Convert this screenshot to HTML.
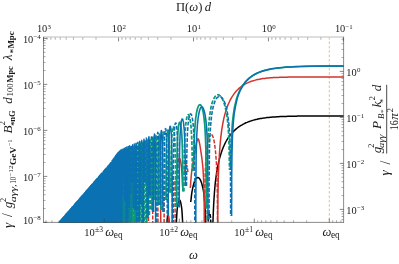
<!DOCTYPE html>
<html><head><meta charset="utf-8"><title>plot</title>
<style>html,body{margin:0;padding:0;background:#fff}svg{display:block;will-change:transform}text{font-family:"Liberation Serif",serif}</style></head>
<body>
<svg width="399" height="264" viewBox="0 0 399 264">
<rect width="399" height="264" fill="#fff"/>
<defs><clipPath id="c"><rect x="43.5" y="37.0" width="300.1" height="185.4"/></clipPath></defs>
<g clip-path="url(#c)">
<line x1="329.3" y1="37.0" x2="329.3" y2="222.4" stroke="#f7b06a" stroke-width="0.9" stroke-dasharray="2.6 1.8"/>
<path d="M212.1 232L212.1 232L212.1 232L212.1 232L212.1 232L212.1 232L212.1 232L212.2 232L212.2 232L212.2 232L212.2 232L212.2 232L212.3 232L212.3 232L212.4 232L212.5 232L212.5 232L212.7 232L212.8 227.2L213 220.1L213.3 213L213.6 205.9L214 198.8L214.5 191.7L215.1 184.7L215.4 181.9L216.5 173.5L217.6 167.1L218.7 161.9L219.8 157.6L220.9 153.9L222 150.6L223.1 147.8L224.2 145.3L225.2 143L226.3 141L227.4 139.1L228.5 137.5L229.6 135.9L230.7 134.5L231.8 133.2L232.9 132L234 130.9L235.1 129.9L236.2 128.9L237.3 128L238.4 127.2L239.5 126.4L240.6 125.7L241.7 125.1L242.8 124.4L243.8 123.9L244.9 123.3L246 122.8L247.1 122.4L248.2 121.9L249.3 121.5L250.4 121.1L251.5 120.8L252.6 120.4L253.7 120.1L254.8 119.8L255.9 119.5L257 119.3L258.1 119L259.2 118.8L260.3 118.6L261.4 118.4L262.4 118.2L263.5 118.1L264.6 117.9L265.7 117.8L266.8 117.6L267.9 117.5L269 117.4L270.1 117.3L271.2 117.2L272.3 117.1L273.4 117L274.5 116.9L275.6 116.9L276.7 116.8L277.8 116.7L278.9 116.7L280 116.6L281 116.6L282.1 116.5L283.2 116.5L284.3 116.4L285.4 116.4L286.5 116.4L287.6 116.3L288.7 116.3L289.8 116.3L290.9 116.2L292 116.2L293.1 116.2L294.2 116.2L295.3 116.2L296.4 116.2L297.5 116.1L298.6 116.1L299.6 116.1L300.7 116.1L301.8 116.1L302.9 116.1L304 116.1L305.1 116.1L306.2 116.1L307.3 116.1L308.4 116.1L309.5 116L310.6 116L311.7 116L312.8 116L313.9 116L315 116L316.1 116L317.2 116L318.2 116L319.3 116L320.4 116L321.5 116L322.6 116L323.7 116L324.8 116L325.9 116L327 116L328.1 116L329.2 116L330.3 116L331.4 116L332.5 116L333.6 116L334.7 116L335.8 116L336.8 116L337.9 116L339 116L340.1 116L341.2 116L342.3 116L343.4 116L344.5 116L345.6 116M190.7 202L191.1 199.1L191.5 195.1L192 191.6L192.6 188.6L193.2 186L193.8 183.7L194.4 181.8L195 180.2L195.7 179L196.3 178.2L197 177.7L197.7 177.5L198.4 177.7L199.1 178.1L199.7 178.9L200.4 180L201 181.4L201.6 183.1L202.2 185.2L202.8 187.7L203.4 190.6L203.9 193.9L204.3 197.7L204.7 202.1L205.1 207.2L205.5 213.2L205.7 220.4L206 229.2L206.2 232L206.3 232L206.4 232L206.4 232L206.4 232M175.5 232L175.5 232L175.5 232L175.5 232L175.6 232L175.7 232L175.8 232L175.9 232L176.1 229.4L176.3 224.4L176.5 220L176.7 216.2L176.9 212.9L177.1 210.1L177.4 207.7L177.7 205.6L178 203.9L178.3 202.5L178.6 201.4L178.9 200.6L179.2 200.2L179.5 200L179.8 200.2L180.1 200.6L180.4 201.4L180.7 202.5L181 203.9L181.3 205.6L181.6 207.7L181.9 210.1L182.1 212.9L182.3 216.2L182.5 220L182.7 224.4L182.9 229.4L183.1 232L183.2 232L183.3 232L183.4 232L183.5 232L183.5 232L183.5 232L183.5 232M166 232L166 232L166 232L166 232L166.1 232L166.1 232L166.2 232L166.2 232L166.3 232L166.4 232L166.5 232L166.6 231.2L166.7 227.9L166.8 225.1L167 222.7L167.1 220.6L167.2 218.9L167.4 217.5L167.5 216.4L167.7 215.6L167.8 215.2L168 215L168.2 215.2L168.3 215.6L168.5 216.4L168.6 217.5L168.8 218.9L168.9 220.6L169 222.7L169.2 225.1L169.3 227.9L169.4 231.2L169.5 232L169.6 232L169.7 232L169.8 232L169.8 232L169.9 232L169.9 232L170 232L170 232L170 232L170 232" fill="none" stroke="#000000" stroke-width="1.5" stroke-linejoin="round"/>
<path d="M207 232L207 232L207 232L207 232L207.1 232L207.1 232L207.2 232L207.3 232L207.4 232L207.5 232L207.6 232L207.7 228.7L207.9 225.4L208 222.6L208.2 220.2L208.3 218.1L208.5 216.4L208.7 215L208.9 213.9L209.1 213.1L209.3 212.7L209.4 212.5L209.6 212.7L209.8 213.1L210 213.9L210.2 215L210.4 216.4L210.6 218.1L210.7 220.2L210.9 222.6L211 225.4L211.2 228.7L211.3 232L211.4 232L211.5 232L211.6 232L211.7 232L211.8 232L211.8 232L211.9 232L211.9 232L211.9 232L211.9 232" fill="none" stroke="#000000" stroke-width="1.5" stroke-dasharray="3.9 1.6" stroke-linejoin="round"/>
<path d="M217.5 232L217.5 232L217.5 232L217.5 232L217.5 232L217.5 232L217.5 232L217.6 232L217.6 232L217.6 232L217.6 232L217.6 232L217.7 225.2L217.7 218L217.8 210.9L217.9 203.8L217.9 196.7L218.1 189.6L218.2 182.5L218.4 175.4L218.7 168.3L219 161.2L219.4 154.1L219.9 147.1L220.5 140.1L220.8 137.3L221.8 129.3L222.9 123.1L223.9 118.1L225 113.9L226 110.4L227.1 107.3L228.1 104.6L229.2 102.2L230.2 100L231.3 98.1L232.3 96.4L233.4 94.8L234.4 93.4L235.5 92L236.5 90.8L237.6 89.8L238.6 88.7L239.7 87.8L240.7 87L241.8 86.2L242.8 85.5L243.9 84.8L244.9 84.2L246 83.6L247 83.1L248.1 82.6L249.1 82.1L250.2 81.7L251.2 81.3L252.3 81L253.3 80.7L254.4 80.4L255.4 80.1L256.5 79.8L257.5 79.6L258.6 79.4L259.6 79.2L260.7 79L261.7 78.8L262.7 78.6L263.8 78.5L264.8 78.4L265.9 78.2L266.9 78.1L268 78L269 77.9L270.1 77.8L271.1 77.8L272.2 77.7L273.2 77.6L274.3 77.6L275.3 77.5L276.4 77.5L277.4 77.4L278.5 77.4L279.5 77.3L280.6 77.3L281.6 77.3L282.7 77.2L283.7 77.2L284.8 77.2L285.8 77.2L286.9 77.2L287.9 77.1L289 77.1L290 77.1L291.1 77.1L292.1 77.1L293.2 77.1L294.2 77.1L295.3 77.1L296.3 77.1L297.4 77.1L298.4 77L299.5 77L300.5 77L301.6 77L302.6 77L303.7 77L304.7 77L305.7 77L306.8 77L307.8 77L308.9 77L309.9 77L311 77L312 77L313.1 77L314.1 77L315.2 77L316.2 77L317.3 77L318.3 77L319.4 77L320.4 77L321.5 77L322.5 77L323.6 77L324.6 77L325.7 77L326.7 77L327.8 77L328.8 77L329.9 77L330.9 77L332 77L333 77L334.1 77L335.1 77L336.2 77L337.2 77L338.3 77L339.3 77L340.4 77L341.4 77L342.5 77L343.5 77L344.6 77L345.6 77M190.2 188L190.5 186.2L190.8 181L191.2 176.4L191.6 172.4L192 168.8L192.5 165.6L193 162.7L193.5 160.1L194 157.3L194.6 154.1L195.1 150.6L195.7 147L196.3 143.7L196.9 141L197.5 139.3L198.1 138.8L198.7 139.8L199.2 141.8L199.8 144.5L200.3 147.6L200.8 150.9L201.3 154.3L201.8 157.7L202.2 161L202.6 164.7L203 168.9L203.3 173.8L203.6 179.4L203.8 186.3L204 194.8L204.2 206L204.3 222L204.4 232L204.4 232L204.4 232M175.8 190L176 189.5L176.2 184.5L176.4 180L176.6 176L176.8 172.4L177.1 169.2L177.4 166.4L177.7 164L178 162L178.3 160.4L178.6 159.2L178.9 158.4L179.2 158.1L179.5 158.2L179.8 158.6L180.1 159.4L180.4 160.5L180.7 161.9L181 163.7L181.3 165.9L181.6 168.4L181.8 171.4L182 174.9L182.2 178.8L182.4 183.4L182.6 187M168.2 196L168.6 232M160.6 201L160.9 232" fill="none" stroke="#d1342f" stroke-width="1.5" stroke-linejoin="round"/>
<path d="M204.6 232L204.6 232L204.6 232L204.7 214.8L204.8 198.6L204.9 187.1L205.1 178.2L205.3 171L205.6 164.9L205.8 159.7L206.2 155.2L206.5 151.3L206.9 147.9L207.3 145L207.7 142.4L208.1 140.3L208.6 138.5L209.1 137L209.6 135.9L210.1 135.1L210.6 134.7L211.1 134.5L211.6 134.7L212.1 135.1L212.6 136L213.1 137.3L213.6 138.9L214.1 141L214.5 143.5L214.9 146.4L215.3 149.8L215.7 153.5L216 157.7L216.4 162.5L216.6 168L216.9 174.3L217.1 181.7L217.3 190.8L217.4 202.4L217.5 218.7L217.6 232L217.6 232L217.6 232M184.7 172L184.9 170.6L185.1 168.9L185.3 167.5L185.6 166.4L185.8 165.6L186.1 165.2L186.3 165L186.5 165.2L186.8 165.6L187 166.4L187.3 167.5L187.5 168.9L187.7 170.6L187.9 172M172.2 176L172.3 232M175 181L175.2 232M164 186L164.2 232M157.8 191L158 232M152.6 199L152.8 232M148.4 206L148.6 232" fill="none" stroke="#d1342f" stroke-width="1.5" stroke-dasharray="3.9 1.6" stroke-linejoin="round"/>
<path d="M230.8 170L230.9 169L230.9 161.5L231.1 153.9L231.2 146.4L231.5 138.8L231.9 131L232.4 123.2L233.3 115.2L234.5 107.1L236.5 98.9L236.5 98.8L237.4 96.3L238.2 94L239.1 91.9L240 90L241 88.2L241.9 86.6L242.9 85.1L244 83.7L245 82.3L246.1 81.1L247.3 79.9L248.4 78.8L249.7 77.8L250.9 76.9L252.2 75.9L253.6 75.1L255 74.3L256.5 73.5L258 72.8L259.7 72.1L261.4 71.5L263.2 70.9L265.1 70.4L267.1 69.9L269.3 69.4L271.6 68.9L274 68.5L276.7 68.2L279.6 67.8L282.8 67.5L286.4 67.2L290.3 67L294.8 66.7L300.1 66.5L306.3 66.4L314 66.2L324.1 66.1L338.7 66.1L366 66M193.6 171L193.8 161.2L193.9 152.3L194.1 145L194.3 138.9L194.5 133.6L194.8 129L195.1 125L195.4 121.4L195.7 118.3L196.1 115.5L196.5 113.1L196.9 111L197.3 109.2L197.8 107.7L198.3 106.5L198.7 105.6L199.2 105L199.7 104.8L200.2 104.8L200.7 105.1L201.2 105.7L201.7 106.7L202.2 108.1L202.7 109.9L203.2 112.1L203.6 114.7L204 117.8L204.4 121.3L204.8 125.5L205.1 130.3L205.4 136.1L205.7 143.1L205.9 151.8L206 163.1L206.2 179.2L206.2 206.8L206.3 208.6M176.7 207L176.7 203.5L176.7 187.3L176.8 175.9L176.9 167L177 159.8L177.1 153.8L177.2 148.6L177.3 144.2L177.5 140.3L177.6 136.9L177.8 133.9L178 131.3L178.2 129.1L178.4 127.2L178.6 125.6L178.9 124.3L179.1 123.4L179.3 122.7L179.6 122.4L179.8 122.3L180.1 122.6L180.3 123.2L180.6 124L180.8 125.3L181 126.8L181.3 128.7L181.5 131L181.7 133.6L181.9 136.8L182.1 140.4L182.2 144.5L182.4 149.4L182.5 155.2L182.6 162.2L182.7 170.9L182.8 182.2L182.9 191.6M166.1 200L166.1 193.8L166.2 182.3L166.2 173.5L166.3 166.3L166.3 160.4L166.4 155.3L166.5 150.8L166.6 147L166.7 143.7L166.8 140.7L166.9 138.2L167.1 136.1L167.2 134.3L167.3 132.8L167.5 131.6L167.6 130.8L167.8 130.2L167.9 130L168.1 130L168.2 130.4L168.3 131.1L168.5 132L168.6 133.3L168.8 135L168.9 137L169 139.3L169.2 142.1L169.3 145.3L169.4 149L169.5 153.3L169.6 158.3L169.7 164.2L169.7 171.3L169.8 180L169.8 191.4L169.9 192.7M158.3 205L158.3 197.7L158.4 186.2L158.4 177.4L158.4 170.3L158.5 164.3L158.5 159.2L158.6 154.8L158.7 151L158.7 147.6L158.8 144.7L158.9 142.2L159 140.1L159.1 138.3L159.2 136.8L159.3 135.7L159.4 134.9L159.5 134.3L159.6 134.1L159.7 134.2L159.8 134.6L159.9 135.3L160 136.3L160.1 137.6L160.2 139.3L160.3 141.3L160.4 143.7L160.5 146.5L160.5 149.7L160.6 153.4L160.7 157.7L160.7 162.7L160.8 168.6L160.8 175.7L160.9 184.5L160.9 195.9L160.9 210M152.1 210L152.1 200.8L152.1 189.3L152.1 180.5L152.2 173.4L152.2 167.4L152.2 162.3L152.3 157.9L152.3 154.1L152.4 150.8L152.5 147.9L152.5 145.4L152.6 143.3L152.6 141.5L152.7 140.1L152.8 138.9L152.9 138.1L152.9 137.6L153 137.4L153.1 137.5L153.2 137.9L153.3 138.6L153.3 139.6L153.4 140.9L153.5 142.6L153.5 144.6L153.6 147L153.7 149.8L153.7 153.1L153.8 156.8L153.8 161.1L153.9 166.2L153.9 172.1L153.9 179.2L154 187.9L154 199.3L154 200M146.8 232L146.8 232L146.8 232L146.8 219.5L146.9 203.4L146.9 191.9L146.9 183.1L146.9 176L146.9 170L147 164.9L147 160.6L147.1 156.7L147.1 153.4L147.1 150.6L147.2 148.1L147.2 146L147.3 144.2L147.3 142.7L147.4 141.6L147.5 140.8L147.5 140.3L147.6 140.1L147.6 140.2L147.7 140.6L147.8 141.3L147.8 142.4L147.9 143.7L147.9 145.4L148 147.4L148 149.8L148.1 152.6L148.1 155.9L148.2 159.6L148.2 163.9L148.2 169L148.3 174.9L148.3 182L148.3 190.8L148.3 202.2L148.3 215M142.3 232L142.3 232L142.3 212.9L142.4 185.4L142.4 169.6L142.5 159L142.6 151.5L142.7 146.5L142.8 143.5L142.9 142.4L143 143.2L143.1 146L143.2 150.9L143.3 158.2L143.4 168.7L143.5 184.4L143.5 211.8L143.5 232L143.5 232M138.4 232L138.4 232L138.4 214.8L138.4 187.3L138.4 171.6L138.5 161L138.6 153.5L138.7 148.4L138.7 145.5L138.8 144.4L138.9 145.3L139 148.1L139.1 153L139.2 160.3L139.2 170.8L139.3 186.5L139.3 213.9L139.3 232L139.3 232M134.8 232L134.8 232L134.8 216.5L134.8 189L134.9 173.3L134.9 162.7L135 155.2L135 150.2L135.1 147.2L135.2 146.2L135.3 147.1L135.4 149.9L135.5 154.8L135.5 162.1L135.6 172.6L135.6 188.3L135.6 215.7L135.6 232L135.6 232M131.6 232L131.6 232L131.6 217.8L131.6 190.3L131.6 174.6L131.7 164L131.7 156.5L131.8 151.5L131.9 148.5L132 147.5L132 148.4L132.1 151.3L132.2 156.2L132.2 163.5L132.3 174.1L132.3 189.7L132.3 217.2L132.3 232L132.3 232M128.6 232L128.6 232L128.6 219L128.7 191.5L128.7 175.8L128.7 165.2L128.8 157.8L128.9 152.7L128.9 149.8L129 148.8L129.1 149.7L129.1 152.5L129.2 157.4L129.2 164.8L129.3 175.3L129.3 191L129.3 218.4L129.3 232L129.3 232M125.9 232L125.9 232L126 220.3L126 192.8L126 177.1L126 166.5L126.1 159L126.1 154L126.2 151L126.3 150L126.3 150.9L126.4 153.8L126.5 158.7L126.5 166L126.5 176.5L126.6 192.2L126.6 219.6L126.6 232L126.6 232M123.5 232L123.5 232L123.5 221.5L123.5 194L123.5 178.3L123.6 167.7L123.6 160.3L123.6 155.2L123.7 152.3L123.8 151.3L123.8 152.2L123.9 155L123.9 159.9L124 167.3L124 177.8L124 193.5L124.1 220.9L124.1 232L124.1 232M121.2 232L121.2 232L121.2 222.6L121.2 195.2L121.2 179.4L121.2 168.8L121.3 161.4L121.3 156.4L121.4 153.4L121.4 152.4L121.5 153.3L121.5 156.2L121.6 161.1L121.6 168.4L121.7 179L121.7 194.6L121.7 222.1L121.7 232L121.7 232M119 232L119 232L119 224.5L119 197L119 181.3L119.1 170.6L119.1 163.2L119.2 158.1L119.2 155.1L119.3 154L119.3 154.9L119.4 157.7L119.4 162.6L119.5 169.9L119.5 180.4L119.5 196L119.5 223.4L119.5 232L119.5 232M117 232L117 232L117 226.7L117 199.2L117 183.5L117.1 172.8L117.1 165.3L117.1 160.2L117.2 157.2L117.2 156.1L117.3 157L117.3 159.8L117.4 164.7L117.4 172L117.4 182.5L117.5 198.1L117.5 225.5L117.5 232L117.5 232M115.1 232L115.1 232L115.1 229.4L115.1 201.9L115.1 186.1L115.1 175.5L115.2 168L115.2 162.9L115.3 159.9L115.3 158.8L115.4 159.6L115.4 162.4L115.4 167.3L115.5 174.6L115.5 185.1L115.5 200.7L115.5 228.1L115.5 232L115.5 232M113.3 232L113.3 232L113.3 231.9L113.3 204.4L113.3 188.7L113.3 178L113.4 170.5L113.4 165.4L113.5 162.4L113.5 161.4L113.5 162.2L113.6 165L113.6 169.8L113.7 177.1L113.7 187.6L113.7 203.3L113.7 230.7L113.7 232L113.7 232M111.6 232L111.6 232L111.6 232L111.6 206.8L111.6 191L111.6 180.4L111.7 172.9L111.7 167.8L111.7 164.8L111.8 163.8L111.8 164.6L111.9 167.4L111.9 172.3L111.9 179.6L112 190.1L112 205.7L112 232L112 232L112 232M110 232L110 180.3L110.1 169.1L110.2 166.1L110.2 168.7L110.3 179.5L110.4 232M108.4 232L108.5 182.1L108.5 171L108.6 168L108.7 170.7L108.7 181.5L108.8 232M106.9 232L107 183.8L107.1 172.7L107.1 169.7L107.2 172.4L107.2 183.2L107.3 232M105.5 232L105.6 185.4L105.6 174.3L105.7 171.3L105.8 174L105.8 184.9L105.9 232M104.2 232L104.2 187L104.3 175.8L104.3 172.8L104.4 175.6L104.5 186.4L104.5 232M102.9 232L102.9 188.4L103 177.3L103 174.3L103.1 177.1L103.2 188L103.2 232M101.6 232L101.7 189.9L101.7 178.8L101.8 175.8L101.8 178.5L101.9 189.4L101.9 232M100.4 232L100.5 191.3L100.5 180.2L100.6 177.2L100.6 179.9L100.7 190.8L100.7 232M99.3 232L99.3 192.6L99.4 181.5L99.4 178.5L99.5 181.3L99.5 192.1L99.6 232M98.2 232L98.2 193.9L98.3 182.8L98.3 179.8L98.3 182.6L98.4 193.4L98.4 232M97.1 232L97.1 195.1L97.2 184L97.2 181.1L97.3 183.8L97.3 194.7L97.3 232M96 232L96.1 196.3L96.1 185.2L96.2 182.3L96.2 185L96.3 195.9L96.3 232M95 232L95.1 197.5L95.1 186.4L95.1 183.4L95.2 186.2L95.2 197.1L95.3 232M94 232L94.1 198.6L94.1 187.5L94.2 184.6L94.2 187.4L94.2 198.2L94.3 232M93.1 232L93.1 199.7L93.2 188.6L93.2 185.7L93.2 188.5L93.3 199.3L93.3 232M92.2 232L92.2 200.8L92.2 189.7L92.3 186.8L92.3 189.5L92.3 200.4L92.4 232M91.3 232L91.3 201.8L91.3 190.8L91.4 187.8L91.4 190.6L91.4 201.5L91.5 232M90.4 232L90.4 202.8L90.4 191.8L90.5 188.8L90.5 191.6L90.6 202.5L90.6 232M89.5 232L89.6 203.8L89.6 192.7L89.6 189.8L89.7 192.6L89.7 203.5L89.7 232M88.7 232L88.7 204.8L88.8 193.7L88.8 190.8L88.8 193.6L88.9 204.4L88.9 232M87.9 232L87.9 205.7L87.9 194.6L88 191.7L88 194.5L88 205.4L88.1 232M87.1 232L87.1 206.6L87.2 195.6L87.2 192.6L87.2 195.4L87.2 206.3L87.3 232M86.3 232L86.3 207.5L86.4 196.4L86.4 193.5L86.4 196.3L86.5 207.2L86.5 232M85.6 232L85.6 208.4L85.6 197.3L85.7 194.4L85.7 197.2L85.7 208.1L85.7 232M84.8 232L84.8 209.2L84.9 198.2L84.9 195.2L84.9 198L85 208.9L85 232M84.1 232L84.2 196.1L84.3 232M83.4 232L83.5 196.9L83.6 232M82.7 232L82.8 197.7L82.9 232M82 232L82.1 198.5L82.2 232M81.4 232L81.4 199.2L81.5 232M80.7 232L80.8 200L80.9 232M80.1 232L80.2 200.7L80.2 232M79.4 232L79.5 201.4L79.6 232M78.8 232L78.9 202.1L79 232M78.2 232L78.3 202.8L78.4 232M77.6 232L77.7 203.5L77.8 232M77.1 232L77.1 204.2L77.2 232M76.5 232L76.6 204.8L76.6 232M75.9 232L76 205.5L76.1 232M75.4 232L75.4 206.1L75.5 232M74.8 232L74.9 206.7L75 232M74.3 232L74.4 207.4L74.4 232M73.8 232L73.8 208L73.9 232M73.3 232L73.3 208.6L73.4 232M72.8 232L72.8 209.1L72.9 232M72.3 232L72.3 209.7L72.4 232M71.8 232L71.8 210.3L71.9 232M71.3 232L71.3 210.8L71.4 232M70.8 232L70.9 211.4L70.9 232M70.3 232L70.4 211.9L70.4 232M69.9 232L69.9 212.5L70 232M69.4 232L69.5 213L69.5 232M69 232L69 213.5L69.1 232M68.5 232L68.6 214L68.6 232M68.1 232L68.1 214.5L68.2 232M67.6 232L67.7 215L67.7 232M67.2 232L67.3 215.5L67.3 232M66.8 232L66.8 216L66.9 232M66.4 232L66.4 216.5L66.5 232M66 232L66 217L66.1 232M65.6 232L65.6 217.4L65.7 232M65.1 232L65.2 217.9L65.2 232M64.8 232L64.8 218.4L64.9 232M64.4 232L64.4 218.8L64.5 232M64 232L64 219.3L64.1 232M63.6 232L63.6 219.7L63.7 232M63.2 232L63.3 220.1L63.3 232M62.8 232L62.9 220.6L62.9 232M62.5 232L62.5 221L62.6 232M62.1 232L62.1 221.4L62.2 232M61.7 232L61.8 221.8L61.8 232M61.4 232L61.4 222.3L61.5 232M61 232L61.1 222.7L61.1 232M60.7 232L60.7 223.1L60.8 232M60.3 232L60.4 223.5L60.4 232M60 232L60 223.9L60.1 232M59.7 232L59.7 224.2L59.7 232M59.3 232L59.4 224.6L59.4 232M59 232L59 225L59.1 232M58.7 232L58.7 225.4L58.7 232M58.3 232L58.4 225.8L58.4 232M58 232L58.1 226.1L58.1 232M57.7 232L57.7 226.5L57.8 232M57.4 232L57.4 226.9L57.5 232M57.1 232L57.1 227.2L57.1 232M56.8 232L56.8 227.6L56.8 232M56.4 232L56.5 228L56.5 232M56.1 232L56.2 228.3L56.2 232" fill="none" stroke="#0e9b78" stroke-width="1.75" stroke-linejoin="round"/>
<path d="M207.3 219.4L207.3 215.4L207.3 206.8L207.4 179.1L207.5 162.8L207.7 151.3L207.9 142.4L208.2 135.2L208.5 129L208.9 123.8L209.3 119.2L209.7 115.2L210.3 111.6L210.8 108.5L211.4 105.7L212 103.3L212.7 101.2L213.4 99.4L214.2 97.9L215 96.7L215.8 95.9L216.6 95.3L217.5 94.9L218.3 94.9L219.2 95.2L220.1 95.9L221 96.9L221.9 98.2L222.8 99.9L223.7 102L224.5 104.4L225.3 107.4L226 110.8L226.8 114.9L227.4 119.6L228 125.3L228.5 132.2L228.9 140.9L229.2 152.1L229.5 168.2L229.6 170M183.9 191.6L184 182L184.1 170.5L184.2 161.5L184.3 154.3L184.4 148.2L184.6 142.9L184.8 138.4L185 134.4L185.2 130.8L185.5 127.7L185.7 125L186 122.6L186.3 120.5L186.6 118.8L186.9 117.4L187.2 116.3L187.5 115.4L187.9 114.9L188.2 114.7L188.5 114.8L188.9 115.2L189.2 115.9L189.5 116.9L189.9 118.3L190.2 120L190.5 122.1L190.8 124.7L191.1 127.7L191.3 131.3L191.6 135.4L191.8 140.3L192 146L192.1 153L192.3 161.7L192.4 171M170.9 192.7L170.9 191.3L171 179.9L171 171L171.1 163.9L171.2 157.8L171.3 152.7L171.4 148.3L171.5 144.4L171.7 141L171.8 138L171.9 135.5L172.1 133.3L172.3 131.4L172.4 129.9L172.6 128.6L172.8 127.7L173 127.1L173.1 126.8L173.3 126.8L173.5 127.1L173.7 127.7L173.9 128.6L174.1 129.9L174.3 131.5L174.4 133.4L174.6 135.7L174.7 138.4L174.9 141.6L175 145.2L175.2 149.5L175.3 154.5L175.4 160.3L175.5 167.4L175.5 176.1L175.6 187.5L175.6 203.6L175.6 207M162 210L162 195.8L162 184.4L162.1 175.6L162.1 168.4L162.2 162.4L162.2 157.3L162.3 152.9L162.4 149.1L162.5 145.8L162.6 142.9L162.7 140.4L162.8 138.2L162.9 136.4L163 134.9L163.1 133.8L163.2 133L163.3 132.4L163.5 132.2L163.6 132.3L163.7 132.6L163.8 133.3L163.9 134.3L164.1 135.6L164.2 137.3L164.3 139.3L164.4 141.7L164.5 144.4L164.6 147.7L164.7 151.4L164.8 155.7L164.8 160.7L164.9 166.6L164.9 173.7L165 182.4L165 193.8L165.1 200M155 200L155.1 199.3L155.1 187.9L155.1 179L155.1 171.9L155.2 165.9L155.2 160.8L155.3 156.4L155.3 152.6L155.4 149.3L155.5 146.4L155.5 143.9L155.6 141.8L155.7 140L155.8 138.5L155.9 137.4L156 136.6L156 136L156.1 135.8L156.2 135.9L156.3 136.3L156.4 137L156.5 138L156.6 139.4L156.7 141L156.7 143.1L156.8 145.4L156.9 148.2L156.9 151.5L157 155.2L157.1 159.5L157.1 164.5L157.2 170.4L157.2 177.5L157.2 186.3L157.3 197.7L157.3 205M149.4 215L149.4 202.1L149.4 190.7L149.4 181.9L149.4 174.7L149.5 168.8L149.5 163.7L149.5 159.3L149.6 155.5L149.6 152.2L149.7 149.3L149.7 146.8L149.8 144.7L149.9 142.9L149.9 141.5L150 140.3L150.1 139.5L150.1 139L150.2 138.8L150.3 138.9L150.3 139.3L150.4 140L150.5 141L150.5 142.4L150.6 144.1L150.6 146.1L150.7 148.5L150.8 151.3L150.8 154.5L150.8 158.3L150.9 162.6L150.9 167.6L151 173.5L151 180.6L151 189.4L151 200.8L151.1 210M144.5 232L144.5 232L144.5 232L144.5 220.7L144.5 204.5L144.5 193.1L144.6 184.3L144.6 177.1L144.6 171.2L144.6 166.1L144.7 161.7L144.7 157.9L144.7 154.6L144.8 151.7L144.8 149.2L144.9 147.1L144.9 145.4L145 143.9L145 142.8L145.1 142L145.1 141.5L145.2 141.3L145.2 141.4L145.3 141.8L145.3 142.5L145.4 143.6L145.4 144.9L145.5 146.6L145.5 148.6L145.6 151L145.6 153.9L145.6 157.1L145.7 160.8L145.7 165.2L145.7 170.2L145.8 176.1L145.8 183.2L145.8 192L145.8 203.4L145.8 219.5L145.8 232L145.8 232L145.8 232M140.3 232L140.3 232L140.3 213.9L140.3 186.4L140.4 170.6L140.5 160L140.5 152.5L140.6 147.5L140.7 144.5L140.8 143.4L140.9 144.3L141 147.1L141.1 152L141.2 159.3L141.2 169.8L141.3 185.4L141.3 212.9L141.3 232L141.3 232M136.5 232L136.5 232L136.5 215.7L136.6 188.2L136.6 172.5L136.7 161.9L136.7 154.4L136.8 149.4L136.9 146.4L137 145.3L137.1 146.2L137.1 149L137.2 153.9L137.3 161.2L137.4 171.7L137.4 187.4L137.4 214.8L137.4 232L137.4 232M133.1 232L133.1 232L133.1 217.1L133.2 189.7L133.2 173.9L133.3 163.3L133.3 155.9L133.4 150.9L133.5 147.9L133.5 146.9L133.6 147.8L133.7 150.6L133.8 155.5L133.8 162.9L133.9 173.4L133.9 189L133.9 216.5L134 232L134 232M130.1 232L130.1 232L130.1 218.4L130.1 190.9L130.1 175.2L130.2 164.6L130.2 157.2L130.3 152.1L130.4 149.2L130.4 148.2L130.5 149.1L130.6 151.9L130.6 156.8L130.7 164.2L130.7 174.7L130.8 190.4L130.8 217.8L130.8 232L130.8 232M127.3 232L127.3 232L127.3 219.6L127.3 192.2L127.3 176.4L127.4 165.8L127.4 158.4L127.5 153.3L127.5 150.4L127.6 149.4L127.7 150.3L127.7 153.1L127.8 158L127.8 165.4L127.9 175.9L127.9 191.5L127.9 219L127.9 232L127.9 232M124.7 232L124.7 232L124.7 220.9L124.7 193.4L124.7 177.7L124.8 167.1L124.8 159.7L124.9 154.6L124.9 151.7L125 150.7L125.1 151.6L125.1 154.4L125.2 159.3L125.2 166.7L125.3 177.2L125.3 192.8L125.3 220.3L125.3 232L125.3 232M122.3 232L122.3 232L122.3 222.1L122.3 194.6L122.3 178.9L122.4 168.3L122.4 160.8L122.5 155.8L122.5 152.9L122.6 151.9L122.6 152.8L122.7 155.6L122.7 160.5L122.8 167.9L122.8 178.4L122.9 194.1L122.9 221.5L122.9 232L122.9 232M120.1 232L120.1 232L120.1 223.4L120.1 195.9L120.1 180.2L120.1 169.6L120.2 162.1L120.2 157L120.3 154L120.3 153L120.4 153.9L120.4 156.7L120.5 161.7L120.5 169L120.6 179.5L120.6 195.2L120.6 222.6L120.6 232L120.6 232M118 232L118 232L118 225.5L118 198L118 182.3L118.1 171.7L118.1 164.2L118.1 159.1L118.2 156.1L118.2 155.1L118.3 155.9L118.3 158.7L118.4 163.6L118.4 170.9L118.4 181.4L118.5 197.1L118.5 224.5L118.5 232L118.5 232M116 232L116 232L116 228.1L116 200.6L116.1 184.8L116.1 174.2L116.1 166.7L116.2 161.6L116.2 158.6L116.3 157.5L116.3 158.3L116.3 161.1L116.4 166L116.4 173.2L116.5 183.7L116.5 199.3L116.5 226.8L116.5 232L116.5 232M114.2 232L114.2 232L114.2 230.7L114.2 203.2L114.2 187.4L114.2 176.8L114.3 169.3L114.3 164.2L114.3 161.2L114.4 160.1L114.4 160.9L114.5 163.7L114.5 168.6L114.6 175.9L114.6 186.4L114.6 202L114.6 229.4L114.6 232L114.6 232M112.4 232L112.4 232L112.4 232L112.4 205.6L112.5 189.9L112.5 179.2L112.5 171.7L112.5 166.7L112.6 163.6L112.6 162.6L112.7 163.4L112.7 166.2L112.8 171.1L112.8 178.4L112.8 188.9L112.8 204.5L112.8 231.9L112.8 232L112.8 232M110.8 232L110.8 232L110.8 232L110.8 207.9L110.8 192.2L110.8 181.5L110.8 174.1L110.9 169L110.9 166L111 164.9L111 165.8L111 168.6L111.1 173.4L111.1 180.7L111.1 191.2L111.1 206.9L111.2 232L111.2 232L111.2 232M109.2 232L109.2 181.2L109.3 170.1L109.4 167.1L109.4 169.8L109.5 180.6L109.6 232M107.7 232L107.7 182.9L107.8 171.8L107.9 168.8L107.9 171.5L108 182.4L108 232M106.2 232L106.3 184.6L106.3 173.5L106.4 170.5L106.5 173.2L106.5 184.1L106.6 232M104.9 232L104.9 186.2L105 175.1L105 172.1L105.1 174.8L105.1 185.7L105.2 232M103.5 232L103.6 187.7L103.6 176.6L103.7 173.6L103.7 176.4L103.8 187.2L103.9 232M102.3 232L102.3 189.2L102.4 178.1L102.4 175.1L102.5 177.8L102.5 188.7L102.6 232M101 232L101.1 190.6L101.1 179.5L101.2 176.5L101.2 179.2L101.3 190.1L101.3 232M99.9 232L99.9 191.9L100 180.8L100 177.9L100 180.6L100.1 191.5L100.1 232M98.7 232L98.8 193.2L98.8 182.2L98.9 179.2L98.9 181.9L99 192.8L99 232M97.6 232L97.7 194.5L97.7 183.4L97.8 180.4L97.8 183.2L97.8 194.1L97.9 232M96.6 232L96.6 195.7L96.6 184.6L96.7 181.7L96.7 184.4L96.8 195.3L96.8 232M95.5 232L95.6 196.9L95.6 185.8L95.7 182.9L95.7 185.6L95.7 196.5L95.8 232M94.5 232L94.6 198.1L94.6 187L94.6 184L94.7 186.8L94.7 197.7L94.8 232M93.6 232L93.6 199.2L93.6 188.1L93.7 185.1L93.7 187.9L93.8 198.8L93.8 232M92.6 232L92.7 200.2L92.7 189.2L92.7 186.2L92.8 189L92.8 199.9L92.8 232M91.7 232L91.7 201.3L91.8 190.2L91.8 187.3L91.9 190.1L91.9 201L91.9 232M90.8 232L90.8 202.3L90.9 191.3L90.9 188.3L91 191.1L91 202L91 232M89.9 232L90 203.3L90 192.3L90.1 189.3L90.1 192.1L90.1 203L90.2 232M89.1 232L89.1 204.3L89.2 193.2L89.2 190.3L89.2 193.1L89.3 204L89.3 232M88.3 232L88.3 205.2L88.3 194.2L88.4 191.2L88.4 194L88.5 204.9L88.5 232M87.5 232L87.5 206.2L87.5 195.1L87.6 192.2L87.6 195L87.6 205.8L87.7 232M86.7 232L86.7 207.1L86.8 196L86.8 193.1L86.8 195.9L86.9 206.8L86.9 232M85.9 232L86 207.9L86 196.9L86 193.9L86.1 196.7L86.1 207.6L86.1 232M85.2 232L85.2 208.8L85.2 197.7L85.3 194.8L85.3 197.6L85.3 208.5L85.4 232M84.5 232L84.5 209.6L84.5 198.6L84.5 195.6L84.6 198.4L84.6 209.4L84.6 232M83.7 232L83.8 196.5L83.9 232M83 232L83.1 197.3L83.2 232M82.4 232L82.4 198.1L82.5 232M81.7 232L81.8 198.8L81.9 232M81 232L81.1 199.6L81.2 232M80.4 232L80.5 200.3L80.5 232M79.8 232L79.8 201.1L79.9 232M79.1 232L79.2 201.8L79.3 232M78.5 232L78.6 202.5L78.7 232M77.9 232L78 203.2L78.1 232M77.4 232L77.4 203.8L77.5 232M76.8 232L76.8 204.5L76.9 232M76.2 232L76.3 205.2L76.3 232M75.7 232L75.7 205.8L75.8 232M75.1 232L75.2 206.4L75.2 232M74.6 232L74.6 207L74.7 232M74 232L74.1 207.7L74.2 232M73.5 232L73.6 208.3L73.7 232M73 232L73.1 208.8L73.1 232M72.5 232L72.6 209.4L72.6 232M72 232L72.1 210L72.1 232M71.5 232L71.6 210.6L71.6 232M71 232L71.1 211.1L71.2 232M70.6 232L70.6 211.7L70.7 232M70.1 232L70.2 212.2L70.2 232M69.6 232L69.7 212.7L69.7 232M69.2 232L69.2 213.3L69.3 232M68.7 232L68.8 213.8L68.8 232M68.3 232L68.3 214.3L68.4 232M67.9 232L67.9 214.8L68 232M67.4 232L67.5 215.3L67.5 232M67 232L67 215.8L67.1 232M66.6 232L66.6 216.3L66.7 232M66.2 232L66.2 216.7L66.3 232M65.8 232L65.8 217.2L65.9 232M65.4 232L65.4 217.7L65.5 232M65 232L65 218.1L65.1 232M64.6 232L64.6 218.6L64.7 232M64.2 232L64.2 219L64.3 232M63.8 232L63.8 219.5L63.9 232M63.4 232L63.4 219.9L63.5 232M63 232L63.1 220.4L63.1 232M62.7 232L62.7 220.8L62.7 232M62.3 232L62.3 221.2L62.4 232M61.9 232L62 221.6L62 232M61.6 232L61.6 222L61.7 232M61.2 232L61.3 222.5L61.3 232M60.9 232L60.9 222.9L60.9 232M60.5 232L60.6 223.3L60.6 232M60.2 232L60.2 223.7L60.3 232M59.8 232L59.9 224.1L59.9 232M59.5 232L59.5 224.4L59.6 232M59.2 232L59.2 224.8L59.2 232M58.8 232L58.9 225.2L58.9 232M58.5 232L58.5 225.6L58.6 232M58.2 232L58.2 226L58.3 232M57.9 232L57.9 226.3L57.9 232M57.5 232L57.6 226.7L57.6 232M57.2 232L57.3 227.1L57.3 232M56.9 232L56.9 227.4L57 232M56.6 232L56.6 227.8L56.7 232M56.3 232L56.3 228.1L56.4 232" fill="none" stroke="#0e9b78" stroke-width="1.75" stroke-dasharray="3.9 1.6" stroke-linejoin="round"/>
<path d="M231.6 216L231.6 213.8L231.6 206.3L231.7 198.7L231.7 191.2L231.7 183.7L231.7 176.2L231.8 168.6L231.9 161.1L232 153.5L232.2 145.9L232.4 138.2L232.8 130.5L233.3 122.7L234.1 114.7L235.4 106.6L237.3 98.4L237.3 98.3L238.1 95.8L239 93.5L239.8 91.4L240.7 89.5L241.7 87.8L242.6 86.2L243.6 84.7L244.6 83.3L245.6 82L246.7 80.7L247.8 79.6L249 78.5L250.2 77.5L251.4 76.5L252.7 75.7L254 74.8L255.4 74L256.9 73.3L258.4 72.6L260 71.9L261.7 71.3L263.5 70.7L265.4 70.2L267.4 69.7L269.5 69.2L271.8 68.8L274.3 68.4L276.9 68L279.8 67.7L283 67.4L286.5 67.1L290.5 66.9L295 66.7L300.2 66.5L306.4 66.3L314.1 66.2L324.1 66.1L338.7 66L366 66M195.8 232L195.8 225.9L195.8 217.3L195.9 189.6L196 173.4L196.1 161.9L196.2 153L196.4 145.8L196.6 139.7L196.8 134.5L197.1 130L197.3 126L197.6 122.6L198 119.5L198.3 116.8L198.7 114.5L199.1 112.5L199.5 110.8L199.9 109.5L200.4 108.4L200.8 107.6L201.3 107.2L201.8 107L202.3 107.1L202.8 107.6L203.2 108.4L203.7 109.4L204.2 110.9L204.6 112.6L205.1 114.8L205.5 117.3L205.9 120.3L206.3 123.9L206.6 128L206.9 132.9L207.2 138.6L207.5 145.6L207.7 154.2L207.8 165.5L207.9 181.6L208 209.2L208 217.9L208 219.4M179.2 207.4L179.2 199.8L179.3 183.6L179.3 172.2L179.4 163.3L179.5 156.2L179.6 150.1L179.7 145L179.9 140.5L180 136.6L180.2 133.2L180.4 130.3L180.6 127.7L180.8 125.5L181 123.6L181.2 122L181.4 120.8L181.7 119.9L181.9 119.2L182.2 118.9L182.4 118.9L182.6 119.2L182.9 119.8L183.1 120.7L183.4 121.9L183.6 123.5L183.8 125.4L184 127.7L184.3 130.4L184.4 133.5L184.6 137.1L184.8 141.4L184.9 146.3L185.1 152.2L185.2 159.2L185.3 168L185.4 179.3L185.4 186M168.2 216L168.3 206.3L168.3 190.1L168.3 178.7L168.4 169.9L168.4 162.7L168.5 156.7L168.6 151.6L168.7 147.2L168.8 143.4L168.9 140L169 137.1L169.1 134.6L169.3 132.4L169.4 130.6L169.6 129.1L169.7 127.9L169.9 127.1L170 126.5L170.2 126.3L170.3 126.3L170.5 126.6L170.6 127.3L170.8 128.2L170.9 129.5L171.1 131.1L171.2 133.1L171.4 135.4L171.5 138.2L171.6 141.4L171.7 145.1L171.8 149.3L171.9 154.3L172 160.2L172.1 167.3L172.1 176L172.2 187.4L172.2 203.5L172.2 224M160.1 205L160.1 194.2L160.1 182.8L160.1 174L160.2 166.8L160.2 160.8L160.3 155.7L160.4 151.3L160.4 147.5L160.5 144.2L160.6 141.3L160.7 138.8L160.8 136.6L160.9 134.9L161 133.4L161.1 132.2L161.2 131.4L161.3 130.9L161.4 130.6L161.5 130.7L161.6 131.1L161.8 131.8L161.9 132.8L162 134.1L162.1 135.8L162.2 137.8L162.3 140.2L162.4 142.9L162.4 146.2L162.5 149.9L162.6 154.2L162.7 159.2L162.7 165.1L162.8 172.2L162.8 181L162.8 192.4L162.9 208.5L162.9 212M153.5 212L153.5 197.5L153.6 186.1L153.6 177.3L153.6 170.1L153.7 164.1L153.7 159L153.8 154.6L153.8 150.8L153.9 147.5L153.9 144.6L154 142.1L154.1 140L154.1 138.2L154.2 136.8L154.3 135.6L154.4 134.8L154.5 134.3L154.5 134.1L154.6 134.2L154.7 134.6L154.8 135.3L154.9 136.3L154.9 137.6L155 139.3L155.1 141.3L155.2 143.7L155.2 146.5L155.3 149.7L155.4 153.5L155.4 157.8L155.5 162.8L155.5 168.7L155.5 175.8L155.6 184.6L155.6 196L155.6 212.1L155.6 227.8M148.1 218L148.1 216.4L148.1 200.2L148.1 188.8L148.1 180L148.2 172.8L148.2 166.9L148.2 161.8L148.3 157.4L148.3 153.6L148.3 150.3L148.4 147.4L148.4 144.9L148.5 142.8L148.6 141L148.6 139.6L148.7 138.4L148.7 137.6L148.8 137.1L148.9 136.9L148.9 137L149 137.4L149 138.1L149.1 139.2L149.2 140.5L149.2 142.2L149.3 144.2L149.3 146.6L149.4 149.4L149.4 152.7L149.5 156.4L149.5 160.7L149.6 165.8L149.6 171.7L149.6 178.8L149.6 187.6L149.7 195.4M143.4 224.8L143.4 209.8L143.5 182.3L143.5 166.5L143.6 155.9L143.7 148.4L143.8 143.4L143.9 140.4L144 139.3L144.1 140.1L144.3 142.9L144.4 147.8L144.5 155.1L144.5 165.6L144.6 181.3L144.6 182.6M139.3 221.4L139.3 211.8L139.4 184.3L139.4 168.6L139.5 157.9L139.5 150.5L139.6 145.4L139.7 142.4L139.8 141.4L139.9 142.2L140 145L140.1 149.9L140.2 157.3L140.2 167.8L140.3 183.4L140.3 204.3M135.7 210.3L135.7 186.1L135.7 170.4L135.8 159.7L135.8 152.3L135.9 147.2L136 144.3L136.1 143.2L136.2 144.1L136.3 146.9L136.3 151.8L136.4 159.1L136.5 169.6L136.5 185.3L136.5 212.7L136.5 232L136.5 232M132.4 182.3L132.4 171.7L132.5 161.1L132.5 153.7L132.6 148.6L132.7 145.7L132.7 144.7L132.8 145.5L132.9 148.4L133 153.3L133 160.6L133.1 171.2L133.1 186.8L133.1 208.1M129.4 208L129.4 188.7L129.4 172.9L129.5 162.3L129.5 154.9L129.6 149.9L129.6 146.9L129.7 145.9L129.8 146.8L129.8 149.6L129.9 154.6L130 161.9L130 172.4L130 188.1L130.1 194.1M126.6 226.2L126.6 217.4L126.6 189.9L126.7 174.2L126.7 163.6L126.7 156.2L126.8 151.1L126.9 148.2L126.9 147.1L127 148L127.1 150.9L127.1 155.8L127.2 163.1L127.2 173.7L127.2 189.3L127.3 216.8L127.3 218.8M124.1 182L124.1 175.5L124.2 164.8L124.2 157.4L124.3 152.4L124.3 149.4L124.4 148.4L124.4 149.3L124.5 152.1L124.5 157.1L124.6 164.4L124.6 174.9L124.7 190.6L124.7 200.9M121.7 232L121.7 232L121.7 219.8L121.7 192.3L121.8 176.6L121.8 166L121.8 158.6L121.9 153.5L121.9 150.6L122 149.6L122.1 150.5L122.1 153.3L122.2 158.3L122.2 165.6L122.2 176.1L122.3 191.8L122.3 195.3M119.5 205.1L119.5 193.9L119.6 178.2L119.6 167.6L119.6 160.1L119.7 155L119.7 152L119.8 151L119.8 151.8L119.9 154.6L119.9 159.5L120 166.8L120 177.3L120 190.8M117.5 179.5L117.5 169.6L117.6 162.2L117.6 157.1L117.7 154.1L117.7 153L117.8 153.9L117.8 156.7L117.9 161.6L117.9 168.9L117.9 179.4L118 195.1L118 222.5L118 232L118 232M115.5 232L115.5 232L115.5 226.2L115.6 198.7L115.6 182.9L115.6 172.3L115.6 164.8L115.7 159.7L115.7 156.7L115.8 155.6L115.8 156.4L115.9 159.2L115.9 164.1L115.9 171.4L116 181.8L116 197.5L116 224.9L116 232L116 232M113.7 232L113.7 232L113.7 228.7L113.7 201.2L113.8 185.5L113.8 174.8L113.8 167.4L113.9 162.3L113.9 159.3L113.9 158.2L114 159L114 161.8L114.1 166.7L114.1 174L114.1 184.4L114.2 200.1L114.2 227.5L114.2 232L114.2 232M112 232L112 232L112 231.1L112 203.6L112 187.9L112.1 177.3L112.1 169.8L112.1 164.7L112.2 161.7L112.2 160.6L112.2 161.5L112.3 164.2L112.3 169.1L112.4 176.4L112.4 186.9L112.4 202.5L112.4 230L112.4 232L112.4 232M110.4 232L110.4 177.2L110.5 166L110.6 162.9L110.6 165.6L110.7 176.4L110.8 232M108.8 232L108.9 179.1L108.9 168L109 165L109 167.7L109.1 178.5L109.2 232M107.3 232L107.4 180.8L107.4 169.7L107.5 166.7L107.5 169.4L107.6 180.2L107.7 232M105.9 232L105.9 182.4L106 171.3L106.1 168.3L106.1 171.1L106.2 181.9L106.2 232M104.5 232L104.6 184L104.6 172.9L104.7 169.9L104.7 172.7L104.8 183.5L104.9 232M103.2 232L103.3 185.5L103.3 174.4L103.4 171.4L103.4 174.2L103.5 185L103.5 232M101.9 232L102 187L102.1 175.9L102.1 172.9L102.2 175.6L102.2 186.5L102.3 232M100.7 232L100.8 188.4L100.8 177.3L100.9 174.3L100.9 177L101 187.9L101 232M99.6 232L99.6 189.7L99.7 178.6L99.7 175.6L99.8 178.4L99.8 189.3L99.9 232M98.4 232L98.5 191L98.5 179.9L98.6 176.9L98.6 179.7L98.7 190.6L98.7 232M97.3 232L97.4 192.3L97.4 181.2L97.5 178.2L97.5 181L97.6 191.8L97.6 232M96.3 232L96.3 193.5L96.4 182.4L96.4 179.4L96.5 182.2L96.5 193.1L96.6 232M95.3 232L95.3 194.6L95.4 183.6L95.4 180.6L95.4 183.4L95.5 194.3L95.5 232M94.3 232L94.3 195.8L94.4 184.7L94.4 181.7L94.4 184.5L94.5 195.4L94.5 232M93.3 232L93.4 196.9L93.4 185.8L93.4 182.9L93.5 185.6L93.5 196.5L93.6 232M92.4 232L92.4 198L92.5 186.9L92.5 183.9L92.5 186.7L92.6 197.6L92.6 232M91.5 232L91.5 199L91.6 187.9L91.6 185L91.6 187.8L91.7 198.7L91.7 232M90.6 232L90.6 200L90.7 189L90.7 186L90.7 188.8L90.8 199.7L90.8 232M89.7 232L89.8 201L89.8 190L89.8 187L89.9 189.8L89.9 200.7L89.9 232M88.9 232L88.9 202L89 190.9L89 188L89 190.8L89.1 201.7L89.1 232M88.1 232L88.1 202.9L88.1 191.9L88.2 188.9L88.2 191.7L88.2 202.6L88.3 232M87.3 232L87.3 203.8L87.3 192.8L87.4 189.8L87.4 192.6L87.4 203.5L87.5 232M86.5 232L86.5 204.7L86.6 193.7L86.6 190.7L86.6 193.5L86.7 204.4L86.7 232M85.7 232L85.8 205.6L85.8 194.5L85.8 191.6L85.9 194.4L85.9 205.3L85.9 232M85 232L85 206.4L85.1 195.4L85.1 192.5L85.1 195.3L85.2 206.2L85.2 232M84.3 232L84.4 193.3L84.5 232M83.6 232L83.7 194.1L83.7 232M82.9 232L83 194.9L83 232M82.2 232L82.3 195.7L82.4 232M81.5 232L81.6 196.5L81.7 232M80.9 232L81 197.2L81 232M80.2 232L80.3 198L80.4 232M79.6 232L79.7 198.7L79.8 232M79 232L79.1 199.4L79.1 232M78.4 232L78.5 200.1L78.5 232M77.8 232L77.9 200.8L77.9 232M77.2 232L77.3 201.5L77.4 232M76.6 232L76.7 202.1L76.8 232M76.1 232L76.1 202.8L76.2 232M75.5 232L75.6 203.4L75.7 232M75 232L75 204L75.1 232M74.4 232L74.5 204.6L74.6 232M73.9 232L74 205.3L74 232M73.4 232L73.5 205.9L73.5 232M72.9 232L72.9 206.4L73 232M72.4 232L72.4 207L72.5 232M71.9 232L71.9 207.6L72 232M71.4 232L71.5 208.2L71.5 232M70.9 232L71 208.7L71 232M70.4 232L70.5 209.3L70.6 232M70 232L70 209.8L70.1 232M69.5 232L69.6 210.3L69.6 232M69.1 232L69.1 210.8L69.2 232M68.6 232L68.7 211.4L68.7 232M68.2 232L68.2 211.9L68.3 232M67.7 232L67.8 212.4L67.9 232M67.3 232L67.4 212.9L67.4 232M66.9 232L66.9 213.4L67 232M66.5 232L66.5 213.8L66.6 232M66.1 232L66.1 214.3L66.2 232M65.7 232L65.7 214.8L65.8 232M65.2 232L65.3 215.2L65.4 232M64.9 232L64.9 215.7L65 232M64.5 232L64.5 216.2L64.6 232M64.1 232L64.1 216.6L64.2 232M63.7 232L63.7 217L63.8 232M63.3 232L63.4 217.5L63.4 232M62.9 232L63 217.9L63 232M62.6 232L62.6 218.3L62.7 232M62.2 232L62.2 218.8L62.3 232M61.8 232L61.9 219.2L61.9 232M61.5 232L61.5 219.6L61.6 232M61.1 232L61.2 220L61.2 232M60.8 232L60.8 220.4L60.9 232M60.4 232L60.5 220.8L60.5 232M60.1 232L60.1 221.2L60.2 232M59.7 232L59.8 221.6L59.8 232M59.4 232L59.4 222L59.5 232M59.1 232L59.1 222.4L59.2 232M58.7 232L58.8 222.7L58.8 232M58.4 232L58.5 223.1L58.5 232M58.1 232L58.1 223.5L58.2 232M57.8 232L57.8 223.9L57.9 232M57.5 232L57.5 224.2L57.5 232M57.1 232L57.2 224.6L57.2 232M56.8 232L56.9 225L56.9 232M56.5 232L56.6 225.3L56.6 232M56.2 232L56.3 225.7L56.3 232" fill="none" stroke="#0a72b3" stroke-width="1.55" stroke-linejoin="round"/>
<path d="M209 219.4L209.1 217.8L209.1 209.2L209.1 181.5L209.3 165.3L209.4 153.7L209.6 144.8L209.9 137.5L210.2 131.4L210.6 126.1L211 121.5L211.4 117.4L211.9 113.8L212.4 110.6L213 107.8L213.6 105.4L214.3 103.2L214.9 101.4L215.7 99.8L216.4 98.6L217.2 97.6L218 97L218.8 96.6L219.7 96.5L220.5 96.7L221.4 97.2L222.2 98.1L223.1 99.3L223.9 100.8L224.8 102.7L225.6 105L226.4 107.8L227.1 111.1L227.8 115L228.4 119.7L229 125.3L229.5 132.1L229.9 140.6L230.2 151.8L230.4 167.8L230.6 195.4L230.6 204L230.6 216M186.5 186L186.6 179.2L186.6 167.7L186.7 158.8L186.9 151.6L187 145.6L187.2 140.4L187.3 136L187.5 132L187.8 128.6L188 125.6L188.2 123L188.5 120.7L188.8 118.8L189.1 117.2L189.4 115.9L189.7 114.9L190 114.3L190.3 113.9L190.7 113.8L191 114.1L191.3 114.6L191.7 115.4L192 116.6L192.3 118.1L192.6 120L192.9 122.2L193.2 124.9L193.4 128L193.7 131.6L193.9 135.8L194.1 140.7L194.3 146.5L194.5 153.5L194.6 162.3L194.7 173.6L194.8 189.7L194.8 217.3L194.8 226L194.8 232M173.3 224L173.3 203.5L173.3 187.3L173.4 175.9L173.4 167L173.5 159.8L173.6 153.8L173.7 148.7L173.8 144.3L173.9 140.4L174.1 137L174.2 134.1L174.4 131.5L174.5 129.3L174.7 127.5L174.9 125.9L175 124.7L175.2 123.8L175.4 123.2L175.6 122.9L175.8 122.9L176 123.2L176.2 123.9L176.4 124.8L176.6 126.1L176.8 127.7L176.9 129.6L177.1 131.9L177.3 134.6L177.4 137.8L177.5 141.5L177.7 145.8L177.8 150.7L177.9 156.6L178 163.7L178.1 172.4L178.1 183.8L178.2 199.9L178.2 207.4M163.9 212L163.9 208.5L163.9 192.3L164 180.9L164 172.1L164.1 164.9L164.1 158.9L164.2 153.8L164.3 149.4L164.3 145.6L164.4 142.2L164.5 139.3L164.6 136.8L164.8 134.7L164.9 132.9L165 131.4L165.1 130.2L165.2 129.4L165.4 128.8L165.5 128.6L165.6 128.7L165.8 129L165.9 129.7L166 130.7L166.1 132L166.3 133.7L166.4 135.7L166.5 138.1L166.6 140.8L166.7 144L166.8 147.8L166.9 152.1L167 157.1L167 163L167.1 170L167.1 178.8L167.2 190.2L167.2 206.3L167.2 216M156.6 227.8L156.6 212.1L156.6 195.9L156.7 184.5L156.7 175.7L156.7 168.5L156.8 162.6L156.8 157.5L156.9 153.1L157 149.3L157 145.9L157.1 143L157.2 140.5L157.3 138.4L157.3 136.6L157.4 135.2L157.5 134L157.6 133.2L157.7 132.7L157.8 132.4L157.9 132.5L158 132.9L158.1 133.6L158.2 134.6L158.3 136L158.4 137.6L158.4 139.7L158.5 142L158.6 144.8L158.7 148.1L158.7 151.8L158.8 156.1L158.9 161.1L158.9 167L158.9 174.1L159 182.9L159 194.3L159 205M150.7 195.4L150.7 187.5L150.7 178.7L150.8 171.5L150.8 165.6L150.8 160.5L150.9 156.1L150.9 152.3L151 148.9L151 146.1L151.1 143.6L151.2 141.5L151.2 139.7L151.3 138.2L151.4 137.1L151.4 136.3L151.5 135.8L151.6 135.6L151.6 135.7L151.7 136.1L151.8 136.8L151.9 137.8L151.9 139.1L152 140.8L152.1 142.8L152.1 145.2L152.2 148L152.2 151.3L152.3 155L152.3 159.3L152.4 164.4L152.4 170.3L152.4 177.4L152.5 186.1L152.5 197.5L152.5 212M145.7 182.6L145.7 181.2L145.7 174L145.8 168.1L145.8 163L145.8 158.6L145.9 154.8L145.9 151.5L145.9 148.6L146 146.1L146 144L146.1 142.2L146.1 140.8L146.2 139.7L146.2 138.9L146.3 138.3L146.3 138.1L146.4 138.3L146.5 138.7L146.5 139.4L146.6 140.4L146.6 141.8L146.7 143.5L146.7 145.5L146.8 147.9L146.8 150.7L146.9 153.9L146.9 157.7L146.9 162L147 167L147 173L147 180.1L147 188.8L147 200.2L147.1 216.4L147.1 218M141.3 204.3L141.3 183.3L141.4 167.6L141.5 157L141.5 149.5L141.6 144.4L141.7 141.4L141.8 140.4L142 141.2L142.1 144L142.2 148.9L142.2 156.2L142.3 166.7L142.4 182.4L142.4 209.8L142.4 224.8M137.4 232L137.4 232L137.4 212.7L137.5 185.2L137.5 169.5L137.6 158.9L137.6 151.4L137.7 146.4L137.8 143.4L137.9 142.3L138 143.2L138.1 146L138.2 150.9L138.2 158.2L138.3 168.7L138.3 184.4L138.4 211.8L138.4 221.4M134 208.1L134 186.8L134 171.1L134.1 160.4L134.1 153L134.2 148L134.3 145L134.4 144L134.4 144.9L134.5 147.7L134.6 152.6L134.7 160L134.7 170.5L134.8 186.1L134.8 210.3M130.8 194.1L130.8 188.1L130.9 172.3L130.9 161.7L131 154.3L131 149.3L131.1 146.3L131.2 145.3L131.3 146.2L131.3 149L131.4 154L131.5 161.3L131.5 171.8L131.5 182.3M127.9 218.8L128 216.7L128 189.3L128 173.5L128 162.9L128.1 155.5L128.2 150.5L128.2 147.5L128.3 146.5L128.4 147.4L128.4 150.2L128.5 155.2L128.5 162.5L128.6 173L128.6 188.7L128.6 208M125.3 200.9L125.3 190.6L125.4 174.8L125.4 164.2L125.4 156.8L125.5 151.8L125.6 148.8L125.6 147.8L125.7 148.7L125.7 151.5L125.8 156.4L125.9 163.8L125.9 174.3L125.9 190L125.9 217.4L125.9 226.2M122.9 195.3L122.9 191.8L122.9 176L123 165.4L123 158L123.1 153L123.1 150L123.2 149L123.2 149.9L123.3 152.8L123.3 157.7L123.4 165L123.4 175.6L123.4 182M120.6 190.8L120.7 177.2L120.7 166.6L120.7 159.1L120.8 154.1L120.8 151.2L120.9 150.1L120.9 151L121 153.9L121 158.8L121.1 166.2L121.1 176.7L121.1 192.4L121.2 219.8L121.2 232L121.2 232M118.5 232L118.5 232L118.5 222.5L118.5 195L118.5 179.2L118.6 168.6L118.6 161.1L118.6 156.1L118.7 153.1L118.7 152L118.8 152.9L118.8 155.7L118.9 160.6L118.9 167.9L119 178.4L119 194L119 205.1M116.5 232L116.5 232L116.5 224.9L116.5 197.4L116.5 181.6L116.6 171L116.6 163.5L116.6 158.4L116.7 155.4L116.7 154.3L116.8 155.1L116.8 157.9L116.9 162.7L116.9 170L116.9 179.5M114.6 232L114.6 232L114.6 227.5L114.6 200L114.7 184.2L114.7 173.6L114.7 166.1L114.8 161L114.8 158L114.8 156.9L114.9 157.7L114.9 160.5L115 165.4L115 172.7L115 183.2L115.1 198.8L115.1 226.2L115.1 232L115.1 232M112.8 232L112.8 232L112.9 229.9L112.9 202.5L112.9 186.7L112.9 176.1L112.9 168.6L113 163.5L113 160.5L113.1 159.4L113.1 160.3L113.1 163L113.2 167.9L113.2 175.2L113.2 185.7L113.3 201.3L113.3 228.8L113.3 232L113.3 232M111.2 232L111.2 232L111.2 232L111.2 204.8L111.2 189.1L111.2 178.4L111.3 170.9L111.3 165.9L111.3 162.9L111.4 161.8L111.4 162.6L111.4 165.4L111.5 170.3L111.5 177.6L111.5 188.1L111.6 203.7L111.6 231.2L111.6 232L111.6 232M109.6 232L109.6 178.2L109.7 167.1L109.8 164.1L109.8 166.7L109.9 177.5L110 232M108 232L108.1 180L108.2 168.8L108.2 165.8L108.3 168.6L108.4 179.4L108.4 232M106.6 232L106.6 181.6L106.7 170.5L106.8 167.5L106.8 170.3L106.9 181.1L106.9 232M105.2 232L105.2 183.2L105.3 172.1L105.4 169.1L105.4 171.9L105.5 182.7L105.5 232M103.9 232L103.9 184.8L104 173.7L104 170.7L104.1 173.4L104.1 184.3L104.2 232M102.6 232L102.6 186.3L102.7 175.2L102.7 172.2L102.8 174.9L102.8 185.8L102.9 232M101.3 232L101.4 187.7L101.4 176.6L101.5 173.6L101.5 176.3L101.6 187.2L101.6 232M100.1 232L100.2 189L100.2 178L100.3 175L100.3 177.7L100.4 188.6L100.4 232M99 232L99 190.4L99.1 179.3L99.1 176.3L99.2 179.1L99.2 189.9L99.3 232M97.9 232L97.9 191.6L98 180.6L98 177.6L98.1 180.3L98.1 191.2L98.2 232M96.8 232L96.9 192.9L96.9 181.8L96.9 178.8L97 181.6L97 192.5L97.1 232M95.8 232L95.8 194.1L95.9 183L95.9 180L95.9 182.8L96 193.7L96 232M94.8 232L94.8 195.2L94.9 184.1L94.9 181.2L94.9 184L95 194.8L95 232M93.8 232L93.8 196.3L93.9 185.3L93.9 182.3L94 185.1L94 196L94 232M92.8 232L92.9 197.4L92.9 186.4L93 183.4L93 186.2L93 197.1L93.1 232M91.9 232L92 198.5L92 187.4L92 184.5L92.1 187.2L92.1 198.1L92.2 232M91 232L91.1 199.5L91.1 188.5L91.1 185.5L91.2 188.3L91.2 199.2L91.3 232M90.2 232L90.2 200.5L90.2 189.5L90.3 186.5L90.3 189.3L90.3 200.2L90.4 232M89.3 232L89.3 201.5L89.4 190.4L89.4 187.5L89.5 190.3L89.5 201.2L89.5 232M88.5 232L88.5 202.4L88.6 191.4L88.6 188.4L88.6 191.2L88.7 202.1L88.7 232M87.7 232L87.7 203.4L87.7 192.3L87.8 189.4L87.8 192.2L87.8 203.1L87.9 232M86.9 232L86.9 204.3L87 193.2L87 190.3L87 193.1L87.1 204L87.1 232M86.1 232L86.2 205.2L86.2 194.1L86.2 191.2L86.2 194L86.3 204.9L86.3 232M85.4 232L85.4 206L85.4 195L85.5 192L85.5 194.8L85.5 205.7L85.6 232M84.6 232L84.7 206.9L84.7 195.8L84.7 192.9L84.8 195.7L84.8 206.6L84.8 232M83.9 232L84 193.7L84.1 232M83.2 232L83.3 194.5L83.4 232M82.5 232L82.6 195.3L82.7 232M81.9 232L81.9 196.1L82 232M81.2 232L81.3 196.9L81.4 232M80.5 232L80.6 197.6L80.7 232M79.9 232L80 198.3L80.1 232M79.3 232L79.4 199L79.4 232M78.7 232L78.8 199.8L78.8 232M78.1 232L78.2 200.4L78.2 232M77.5 232L77.6 201.1L77.6 232M76.9 232L77 201.8L77.1 232M76.3 232L76.4 202.4L76.5 232M75.8 232L75.9 203.1L75.9 232M75.2 232L75.3 203.7L75.4 232M74.7 232L74.8 204.3L74.8 232M74.2 232L74.2 205L74.3 232M73.7 232L73.7 205.6L73.8 232M73.1 232L73.2 206.1L73.3 232M72.6 232L72.7 206.7L72.8 232M72.1 232L72.2 207.3L72.3 232M71.6 232L71.7 207.9L71.8 232M71.2 232L71.2 208.4L71.3 232M70.7 232L70.7 209L70.8 232M70.2 232L70.3 209.5L70.3 232M69.7 232L69.8 210.1L69.9 232M69.3 232L69.3 210.6L69.4 232M68.8 232L68.9 211.1L69 232M68.4 232L68.5 211.6L68.5 232M68 232L68 212.1L68.1 232M67.5 232L67.6 212.6L67.6 232M67.1 232L67.2 213.1L67.2 232M66.7 232L66.7 213.6L66.8 232M66.3 232L66.3 214.1L66.4 232M65.9 232L65.9 214.5L66 232M65.5 232L65.5 215L65.6 232M65.1 232L65.1 215.5L65.1 232M64.7 232L64.7 215.9L64.8 232M64.3 232L64.3 216.4L64.4 232M63.9 232L63.9 216.8L64 232M63.5 232L63.5 217.3L63.6 232M63.1 232L63.2 217.7L63.2 232M62.7 232L62.8 218.1L62.8 232M62.4 232L62.4 218.6L62.5 232M62 232L62.1 219L62.1 232M61.7 232L61.7 219.4L61.7 232M61.3 232L61.3 219.8L61.4 232M60.9 232L61 220.2L61 232M60.6 232L60.6 220.6L60.7 232M60.3 232L60.3 221L60.3 232M59.9 232L60 221.4L60 232M59.6 232L59.6 221.8L59.7 232M59.2 232L59.3 222.2L59.3 232M58.9 232L58.9 222.6L59 232M58.6 232L58.6 222.9L58.7 232M58.3 232L58.3 223.3L58.3 232M57.9 232L58 223.7L58 232M57.6 232L57.7 224L57.7 232M57.3 232L57.3 224.4L57.4 232M57 232L57 224.8L57.1 232M56.7 232L56.7 225.1L56.8 232M56.4 232L56.4 225.5L56.4 232" fill="none" stroke="#0a72b3" stroke-width="1.55" stroke-dasharray="3.9 1.6" stroke-linejoin="round"/>
<polygon points="40,244.9 42.1,242.4 44.2,240 46.3,237.5 48.4,235.1 50.5,232.7 52.6,230.2 54.7,227.8 56.8,225.3 58.9,222.9 61,220.5 63.1,218 65.2,215.6 67.3,213.2 69.4,210.8 71.5,208.4 73.6,205.9 75.7,203.5 77.8,201.1 79.9,198.7 82.1,196.3 84.2,193.8 86.3,191.4 88.4,189 90.5,186.6 92.6,184.2 94.7,181.7 96.8,179.3 98.9,176.9 101,174.5 103.1,172.1 105.2,169.6 107.3,167.2 109.4,164.8 111.5,161.9 113.6,159 115.7,156 117.8,153.3 119.9,151.1 122,149.9 122,224.4 40,224.4" fill="#0a72b3" fill-opacity="1"/>
<polygon points="122,149.9 122.3,149.8 122.5,149.6 122.8,149.5 123,149.4 123.3,149.3 123.5,149.1 123.8,149 124.1,148.9 124.3,148.7 124.6,148.6 124.8,148.5 125.1,148.4 125.3,148.2 125.6,148.1 125.8,148 126.1,147.9 126.4,147.7 126.6,147.6 126.9,147.5 127.1,147.3 127.4,147.2 127.6,147.1 127.9,147 128.2,146.8 128.4,146.7 128.7,146.6 128.9,146.5 129.2,146.4 129.4,146.3 129.7,146.2 129.9,146.1 130.2,146 130.5,145.9 130.7,145.8 131,145.7 131.2,145.6 131.5,145.5 131.7,145.4 132,145.3 132,224.4 122,224.4" fill="#0a72b3" fill-opacity="0.5"/>
</g>
<line x1="43.5" y1="36.95" x2="343.6" y2="36.95" stroke="#d3d3d3" stroke-width="1.5"/>
<line x1="43.5" y1="36.7" x2="43.5" y2="222.7" stroke="#444" stroke-width="0.62"/>
<line x1="343.6" y1="36.7" x2="343.6" y2="222.7" stroke="#444" stroke-width="0.62"/>
<line x1="43.2" y1="222.4" x2="343.9" y2="222.4" stroke="#444" stroke-width="0.62"/>
<line x1="45.94" y1="222.4" x2="45.94" y2="220.3" stroke="#555" stroke-width="0.5"/>
<line x1="51.88" y1="222.4" x2="51.88" y2="220.3" stroke="#555" stroke-width="0.5"/>
<line x1="59.15" y1="222.4" x2="59.15" y2="220.3" stroke="#555" stroke-width="0.5"/>
<line x1="68.52" y1="222.4" x2="68.52" y2="220.3" stroke="#555" stroke-width="0.5"/>
<line x1="81.72" y1="222.4" x2="81.72" y2="220.3" stroke="#555" stroke-width="0.5"/>
<line x1="104.3" y1="222.4" x2="104.3" y2="218.6" stroke="#444" stroke-width="0.65"/>
<line x1="107.73" y1="222.4" x2="107.73" y2="220.3" stroke="#555" stroke-width="0.5"/>
<line x1="111.57" y1="222.4" x2="111.57" y2="220.3" stroke="#555" stroke-width="0.5"/>
<line x1="115.92" y1="222.4" x2="115.92" y2="220.3" stroke="#555" stroke-width="0.5"/>
<line x1="120.94" y1="222.4" x2="120.94" y2="220.3" stroke="#555" stroke-width="0.5"/>
<line x1="126.88" y1="222.4" x2="126.88" y2="220.3" stroke="#555" stroke-width="0.5"/>
<line x1="134.15" y1="222.4" x2="134.15" y2="220.3" stroke="#555" stroke-width="0.5"/>
<line x1="143.52" y1="222.4" x2="143.52" y2="220.3" stroke="#555" stroke-width="0.5"/>
<line x1="156.72" y1="222.4" x2="156.72" y2="220.3" stroke="#555" stroke-width="0.5"/>
<line x1="179.3" y1="222.4" x2="179.3" y2="218.6" stroke="#444" stroke-width="0.65"/>
<line x1="182.73" y1="222.4" x2="182.73" y2="220.3" stroke="#555" stroke-width="0.5"/>
<line x1="186.57" y1="222.4" x2="186.57" y2="220.3" stroke="#555" stroke-width="0.5"/>
<line x1="190.92" y1="222.4" x2="190.92" y2="220.3" stroke="#555" stroke-width="0.5"/>
<line x1="195.94" y1="222.4" x2="195.94" y2="220.3" stroke="#555" stroke-width="0.5"/>
<line x1="201.88" y1="222.4" x2="201.88" y2="220.3" stroke="#555" stroke-width="0.5"/>
<line x1="209.15" y1="222.4" x2="209.15" y2="220.3" stroke="#555" stroke-width="0.5"/>
<line x1="218.52" y1="222.4" x2="218.52" y2="220.3" stroke="#555" stroke-width="0.5"/>
<line x1="231.72" y1="222.4" x2="231.72" y2="220.3" stroke="#555" stroke-width="0.5"/>
<line x1="254.3" y1="222.4" x2="254.3" y2="218.6" stroke="#444" stroke-width="0.65"/>
<line x1="257.73" y1="222.4" x2="257.73" y2="220.3" stroke="#555" stroke-width="0.5"/>
<line x1="261.57" y1="222.4" x2="261.57" y2="220.3" stroke="#555" stroke-width="0.5"/>
<line x1="265.92" y1="222.4" x2="265.92" y2="220.3" stroke="#555" stroke-width="0.5"/>
<line x1="270.94" y1="222.4" x2="270.94" y2="220.3" stroke="#555" stroke-width="0.5"/>
<line x1="276.88" y1="222.4" x2="276.88" y2="220.3" stroke="#555" stroke-width="0.5"/>
<line x1="284.15" y1="222.4" x2="284.15" y2="220.3" stroke="#555" stroke-width="0.5"/>
<line x1="293.52" y1="222.4" x2="293.52" y2="220.3" stroke="#555" stroke-width="0.5"/>
<line x1="306.72" y1="222.4" x2="306.72" y2="220.3" stroke="#555" stroke-width="0.5"/>
<line x1="329.3" y1="222.4" x2="329.3" y2="218.6" stroke="#444" stroke-width="0.65"/>
<line x1="332.73" y1="222.4" x2="332.73" y2="220.3" stroke="#555" stroke-width="0.5"/>
<line x1="336.57" y1="222.4" x2="336.57" y2="220.3" stroke="#555" stroke-width="0.5"/>
<line x1="340.92" y1="222.4" x2="340.92" y2="220.3" stroke="#555" stroke-width="0.5"/>
<line x1="43.6" y1="37.6" x2="43.6" y2="41.4" stroke="#444" stroke-width="0.65"/>
<line x1="47.03" y1="37.6" x2="47.03" y2="39.7" stroke="#555" stroke-width="0.5"/>
<line x1="50.87" y1="37.6" x2="50.87" y2="39.7" stroke="#555" stroke-width="0.5"/>
<line x1="55.22" y1="37.6" x2="55.22" y2="39.7" stroke="#555" stroke-width="0.5"/>
<line x1="60.24" y1="37.6" x2="60.24" y2="39.7" stroke="#555" stroke-width="0.5"/>
<line x1="66.18" y1="37.6" x2="66.18" y2="39.7" stroke="#555" stroke-width="0.5"/>
<line x1="73.45" y1="37.6" x2="73.45" y2="39.7" stroke="#555" stroke-width="0.5"/>
<line x1="82.82" y1="37.6" x2="82.82" y2="39.7" stroke="#555" stroke-width="0.5"/>
<line x1="96.02" y1="37.6" x2="96.02" y2="39.7" stroke="#555" stroke-width="0.5"/>
<line x1="118.55" y1="37.6" x2="118.55" y2="41.4" stroke="#444" stroke-width="0.65"/>
<line x1="121.98" y1="37.6" x2="121.98" y2="39.7" stroke="#555" stroke-width="0.5"/>
<line x1="125.82" y1="37.6" x2="125.82" y2="39.7" stroke="#555" stroke-width="0.5"/>
<line x1="130.17" y1="37.6" x2="130.17" y2="39.7" stroke="#555" stroke-width="0.5"/>
<line x1="135.19" y1="37.6" x2="135.19" y2="39.7" stroke="#555" stroke-width="0.5"/>
<line x1="141.13" y1="37.6" x2="141.13" y2="39.7" stroke="#555" stroke-width="0.5"/>
<line x1="148.4" y1="37.6" x2="148.4" y2="39.7" stroke="#555" stroke-width="0.5"/>
<line x1="157.77" y1="37.6" x2="157.77" y2="39.7" stroke="#555" stroke-width="0.5"/>
<line x1="170.97" y1="37.6" x2="170.97" y2="39.7" stroke="#555" stroke-width="0.5"/>
<line x1="193.5" y1="37.6" x2="193.5" y2="41.4" stroke="#444" stroke-width="0.65"/>
<line x1="196.93" y1="37.6" x2="196.93" y2="39.7" stroke="#555" stroke-width="0.5"/>
<line x1="200.77" y1="37.6" x2="200.77" y2="39.7" stroke="#555" stroke-width="0.5"/>
<line x1="205.12" y1="37.6" x2="205.12" y2="39.7" stroke="#555" stroke-width="0.5"/>
<line x1="210.14" y1="37.6" x2="210.14" y2="39.7" stroke="#555" stroke-width="0.5"/>
<line x1="216.08" y1="37.6" x2="216.08" y2="39.7" stroke="#555" stroke-width="0.5"/>
<line x1="223.35" y1="37.6" x2="223.35" y2="39.7" stroke="#555" stroke-width="0.5"/>
<line x1="232.72" y1="37.6" x2="232.72" y2="39.7" stroke="#555" stroke-width="0.5"/>
<line x1="245.92" y1="37.6" x2="245.92" y2="39.7" stroke="#555" stroke-width="0.5"/>
<line x1="268.45" y1="37.6" x2="268.45" y2="41.4" stroke="#444" stroke-width="0.65"/>
<line x1="271.88" y1="37.6" x2="271.88" y2="39.7" stroke="#555" stroke-width="0.5"/>
<line x1="275.72" y1="37.6" x2="275.72" y2="39.7" stroke="#555" stroke-width="0.5"/>
<line x1="280.07" y1="37.6" x2="280.07" y2="39.7" stroke="#555" stroke-width="0.5"/>
<line x1="285.09" y1="37.6" x2="285.09" y2="39.7" stroke="#555" stroke-width="0.5"/>
<line x1="291.03" y1="37.6" x2="291.03" y2="39.7" stroke="#555" stroke-width="0.5"/>
<line x1="298.3" y1="37.6" x2="298.3" y2="39.7" stroke="#555" stroke-width="0.5"/>
<line x1="307.67" y1="37.6" x2="307.67" y2="39.7" stroke="#555" stroke-width="0.5"/>
<line x1="320.87" y1="37.6" x2="320.87" y2="39.7" stroke="#555" stroke-width="0.5"/>
<line x1="343.4" y1="37.6" x2="343.4" y2="41.4" stroke="#444" stroke-width="0.65"/>
<line x1="43.5" y1="222.4" x2="47.3" y2="222.4" stroke="#444" stroke-width="0.65"/>
<line x1="43.5" y1="208.55" x2="45.6" y2="208.55" stroke="#555" stroke-width="0.5"/>
<line x1="43.5" y1="200.45" x2="45.6" y2="200.45" stroke="#555" stroke-width="0.5"/>
<line x1="43.5" y1="194.71" x2="45.6" y2="194.71" stroke="#555" stroke-width="0.5"/>
<line x1="43.5" y1="190.25" x2="45.6" y2="190.25" stroke="#555" stroke-width="0.5"/>
<line x1="43.5" y1="186.61" x2="45.6" y2="186.61" stroke="#555" stroke-width="0.5"/>
<line x1="43.5" y1="183.53" x2="45.6" y2="183.53" stroke="#555" stroke-width="0.5"/>
<line x1="43.5" y1="180.86" x2="45.6" y2="180.86" stroke="#555" stroke-width="0.5"/>
<line x1="43.5" y1="178.5" x2="45.6" y2="178.5" stroke="#555" stroke-width="0.5"/>
<line x1="43.5" y1="176.4" x2="47.3" y2="176.4" stroke="#444" stroke-width="0.65"/>
<line x1="43.5" y1="162.55" x2="45.6" y2="162.55" stroke="#555" stroke-width="0.5"/>
<line x1="43.5" y1="154.45" x2="45.6" y2="154.45" stroke="#555" stroke-width="0.5"/>
<line x1="43.5" y1="148.71" x2="45.6" y2="148.71" stroke="#555" stroke-width="0.5"/>
<line x1="43.5" y1="144.25" x2="45.6" y2="144.25" stroke="#555" stroke-width="0.5"/>
<line x1="43.5" y1="140.61" x2="45.6" y2="140.61" stroke="#555" stroke-width="0.5"/>
<line x1="43.5" y1="137.53" x2="45.6" y2="137.53" stroke="#555" stroke-width="0.5"/>
<line x1="43.5" y1="134.86" x2="45.6" y2="134.86" stroke="#555" stroke-width="0.5"/>
<line x1="43.5" y1="132.5" x2="45.6" y2="132.5" stroke="#555" stroke-width="0.5"/>
<line x1="43.5" y1="130.4" x2="47.3" y2="130.4" stroke="#444" stroke-width="0.65"/>
<line x1="43.5" y1="116.55" x2="45.6" y2="116.55" stroke="#555" stroke-width="0.5"/>
<line x1="43.5" y1="108.45" x2="45.6" y2="108.45" stroke="#555" stroke-width="0.5"/>
<line x1="43.5" y1="102.71" x2="45.6" y2="102.71" stroke="#555" stroke-width="0.5"/>
<line x1="43.5" y1="98.25" x2="45.6" y2="98.25" stroke="#555" stroke-width="0.5"/>
<line x1="43.5" y1="94.61" x2="45.6" y2="94.61" stroke="#555" stroke-width="0.5"/>
<line x1="43.5" y1="91.53" x2="45.6" y2="91.53" stroke="#555" stroke-width="0.5"/>
<line x1="43.5" y1="88.86" x2="45.6" y2="88.86" stroke="#555" stroke-width="0.5"/>
<line x1="43.5" y1="86.5" x2="45.6" y2="86.5" stroke="#555" stroke-width="0.5"/>
<line x1="43.5" y1="84.4" x2="47.3" y2="84.4" stroke="#444" stroke-width="0.65"/>
<line x1="43.5" y1="70.55" x2="45.6" y2="70.55" stroke="#555" stroke-width="0.5"/>
<line x1="43.5" y1="62.45" x2="45.6" y2="62.45" stroke="#555" stroke-width="0.5"/>
<line x1="43.5" y1="56.71" x2="45.6" y2="56.71" stroke="#555" stroke-width="0.5"/>
<line x1="43.5" y1="52.25" x2="45.6" y2="52.25" stroke="#555" stroke-width="0.5"/>
<line x1="43.5" y1="48.61" x2="45.6" y2="48.61" stroke="#555" stroke-width="0.5"/>
<line x1="43.5" y1="45.53" x2="45.6" y2="45.53" stroke="#555" stroke-width="0.5"/>
<line x1="43.5" y1="42.86" x2="45.6" y2="42.86" stroke="#555" stroke-width="0.5"/>
<line x1="43.5" y1="40.5" x2="45.6" y2="40.5" stroke="#555" stroke-width="0.5"/>
<line x1="43.5" y1="38.4" x2="47.3" y2="38.4" stroke="#444" stroke-width="0.65"/>
<line x1="343.6" y1="57.55" x2="341.5" y2="57.55" stroke="#555" stroke-width="0.5"/>
<line x1="343.6" y1="49.45" x2="341.5" y2="49.45" stroke="#555" stroke-width="0.5"/>
<line x1="343.6" y1="43.71" x2="341.5" y2="43.71" stroke="#555" stroke-width="0.5"/>
<line x1="343.6" y1="39.25" x2="341.5" y2="39.25" stroke="#555" stroke-width="0.5"/>
<line x1="343.6" y1="71.4" x2="339.8" y2="71.4" stroke="#444" stroke-width="0.65"/>
<line x1="343.6" y1="103.55" x2="341.5" y2="103.55" stroke="#555" stroke-width="0.5"/>
<line x1="343.6" y1="95.45" x2="341.5" y2="95.45" stroke="#555" stroke-width="0.5"/>
<line x1="343.6" y1="89.71" x2="341.5" y2="89.71" stroke="#555" stroke-width="0.5"/>
<line x1="343.6" y1="85.25" x2="341.5" y2="85.25" stroke="#555" stroke-width="0.5"/>
<line x1="343.6" y1="81.61" x2="341.5" y2="81.61" stroke="#555" stroke-width="0.5"/>
<line x1="343.6" y1="78.53" x2="341.5" y2="78.53" stroke="#555" stroke-width="0.5"/>
<line x1="343.6" y1="75.86" x2="341.5" y2="75.86" stroke="#555" stroke-width="0.5"/>
<line x1="343.6" y1="73.5" x2="341.5" y2="73.5" stroke="#555" stroke-width="0.5"/>
<line x1="343.6" y1="117.4" x2="339.8" y2="117.4" stroke="#444" stroke-width="0.65"/>
<line x1="343.6" y1="149.55" x2="341.5" y2="149.55" stroke="#555" stroke-width="0.5"/>
<line x1="343.6" y1="141.45" x2="341.5" y2="141.45" stroke="#555" stroke-width="0.5"/>
<line x1="343.6" y1="135.71" x2="341.5" y2="135.71" stroke="#555" stroke-width="0.5"/>
<line x1="343.6" y1="131.25" x2="341.5" y2="131.25" stroke="#555" stroke-width="0.5"/>
<line x1="343.6" y1="127.61" x2="341.5" y2="127.61" stroke="#555" stroke-width="0.5"/>
<line x1="343.6" y1="124.53" x2="341.5" y2="124.53" stroke="#555" stroke-width="0.5"/>
<line x1="343.6" y1="121.86" x2="341.5" y2="121.86" stroke="#555" stroke-width="0.5"/>
<line x1="343.6" y1="119.5" x2="341.5" y2="119.5" stroke="#555" stroke-width="0.5"/>
<line x1="343.6" y1="163.4" x2="339.8" y2="163.4" stroke="#444" stroke-width="0.65"/>
<line x1="343.6" y1="195.55" x2="341.5" y2="195.55" stroke="#555" stroke-width="0.5"/>
<line x1="343.6" y1="187.45" x2="341.5" y2="187.45" stroke="#555" stroke-width="0.5"/>
<line x1="343.6" y1="181.71" x2="341.5" y2="181.71" stroke="#555" stroke-width="0.5"/>
<line x1="343.6" y1="177.25" x2="341.5" y2="177.25" stroke="#555" stroke-width="0.5"/>
<line x1="343.6" y1="173.61" x2="341.5" y2="173.61" stroke="#555" stroke-width="0.5"/>
<line x1="343.6" y1="170.53" x2="341.5" y2="170.53" stroke="#555" stroke-width="0.5"/>
<line x1="343.6" y1="167.86" x2="341.5" y2="167.86" stroke="#555" stroke-width="0.5"/>
<line x1="343.6" y1="165.5" x2="341.5" y2="165.5" stroke="#555" stroke-width="0.5"/>
<line x1="343.6" y1="209.4" x2="339.8" y2="209.4" stroke="#444" stroke-width="0.65"/>
<line x1="343.6" y1="219.61" x2="341.5" y2="219.61" stroke="#555" stroke-width="0.5"/>
<line x1="343.6" y1="216.53" x2="341.5" y2="216.53" stroke="#555" stroke-width="0.5"/>
<line x1="343.6" y1="213.86" x2="341.5" y2="213.86" stroke="#555" stroke-width="0.5"/>
<line x1="343.6" y1="211.5" x2="341.5" y2="211.5" stroke="#555" stroke-width="0.5"/>
<g font-family="Liberation Serif, serif" fill="#1a1a1a">
<text x="36.9" y="32.1" text-anchor="start" font-size="10.4">10<tspan dy="-3.5" dx="0.2" font-size="6.9">3</tspan></text>
<text x="111.85" y="32.1" text-anchor="start" font-size="10.4">10<tspan dy="-3.5" dx="0.2" font-size="6.9">2</tspan></text>
<text x="186.8" y="32.1" text-anchor="start" font-size="10.4">10<tspan dy="-3.5" dx="0.2" font-size="6.9">1</tspan></text>
<text x="261.75" y="32.1" text-anchor="start" font-size="10.4">10<tspan dy="-3.5" dx="0.2" font-size="6.9">0</tspan></text>
<text x="334.9" y="32.1" text-anchor="start" font-size="10.4">10<tspan dy="-3.5" dx="0.2" font-size="6.9">−1</tspan></text>
<text x="22.9" y="223.7" text-anchor="start" font-size="10.4">10<tspan dy="-3.5" dx="0.2" font-size="6.9">−8</tspan></text>
<text x="22.9" y="180.8" text-anchor="start" font-size="10.4">10<tspan dy="-3.5" dx="0.2" font-size="6.9">−7</tspan></text>
<text x="22.9" y="134.8" text-anchor="start" font-size="10.4">10<tspan dy="-3.5" dx="0.2" font-size="6.9">−6</tspan></text>
<text x="22.9" y="88.8" text-anchor="start" font-size="10.4">10<tspan dy="-3.5" dx="0.2" font-size="6.9">−5</tspan></text>
<text x="22.9" y="42.8" text-anchor="start" font-size="10.4">10<tspan dy="-3.5" dx="0.2" font-size="6.9">−4</tspan></text>
<text x="346.3" y="75.8" text-anchor="start" font-size="10.4">10<tspan dy="-3.5" dx="0.2" font-size="6.9">0</tspan></text>
<text x="346.3" y="121.8" text-anchor="start" font-size="10.4">10<tspan dy="-3.5" dx="0.2" font-size="6.9">−1</tspan></text>
<text x="346.3" y="167.8" text-anchor="start" font-size="10.4">10<tspan dy="-3.5" dx="0.2" font-size="6.9">−2</tspan></text>
<text x="346.3" y="213.8" text-anchor="start" font-size="10.4">10<tspan dy="-3.5" dx="0.2" font-size="6.9">−3</tspan></text>
<text x="84.3" y="235.8" font-size="10.5">10<tspan dy="-3.9" dx="0.3" font-size="7.6">±3</tspan><tspan dy="3.9" dx="2.3" font-size="12.5" font-style="italic">ω</tspan><tspan dy="2.3" dx="-0.4" font-size="9.3">eq</tspan></text>
<text x="159.3" y="235.8" font-size="10.5">10<tspan dy="-3.9" dx="0.3" font-size="7.6">±2</tspan><tspan dy="3.9" dx="2.3" font-size="12.5" font-style="italic">ω</tspan><tspan dy="2.3" dx="-0.4" font-size="9.3">eq</tspan></text>
<text x="234.3" y="235.8" font-size="10.5">10<tspan dy="-3.9" dx="0.3" font-size="7.6">±1</tspan><tspan dy="3.9" dx="2.3" font-size="12.5" font-style="italic">ω</tspan><tspan dy="2.3" dx="-0.4" font-size="9.3">eq</tspan></text>
<text x="322.5" y="235.8" font-size="12.5"><tspan font-style="italic">ω</tspan><tspan dy="2.3" dx="-0.4" font-size="9.3">eq</tspan></text>
<text x="176.0" y="11" font-size="12.6">Π(<tspan font-style="italic">ω</tspan>) <tspan font-style="italic" dx="-0.8">d</tspan></text>
<text x="193.4" y="258.8" font-size="12.6" font-style="italic" text-anchor="middle">ω</text>
<g transform="translate(11.8 229.6) rotate(-90)"><text x="4.1" y="0" font-size="13.2" font-style="italic" text-anchor="middle">γ</text><text x="14.45" y="0.6" font-size="13.7" text-anchor="middle">/</text><text x="24.6" y="0" font-size="13.2" font-style="italic" text-anchor="middle">g</text><text x="29.8" y="-5.8" font-size="8.3" text-anchor="middle">2</text><text x="27.3" y="3.7" font-size="8.8" font-style="italic" textLength="15.5" lengthAdjust="spacingAndGlyphs">aγγ</text><text x="44" y="3.7" font-size="8.8" text-anchor="middle">,</text><text x="46" y="3.7" font-size="8.8" textLength="6.5" lengthAdjust="spacingAndGlyphs">10</text><text x="52.8" y="1.3" font-size="6.2" textLength="11.5" lengthAdjust="spacingAndGlyphs">−12</text><text x="64.7" y="3.7" font-size="9.2" font-weight="bold" textLength="18.1" lengthAdjust="spacingAndGlyphs">GeV</text><text x="83.6" y="0.5" font-size="6.2" textLength="6.4" lengthAdjust="spacingAndGlyphs">−1</text><text x="100.15" y="-0.3" font-size="13.2" font-style="italic" text-anchor="middle">B</text><text x="106.4" y="-6.6" font-size="8.3" text-anchor="middle">2</text><text x="106" y="5" font-size="8.5" font-weight="bold" text-anchor="middle">*</text><text x="107.8" y="3" font-size="8.8" font-weight="bold" textLength="11.4" lengthAdjust="spacingAndGlyphs">nG</text><text x="129.1" y="0" font-size="13.2" font-style="italic" text-anchor="middle">d</text><text x="133.1" y="1.5" font-size="8.8" textLength="13.2" lengthAdjust="spacingAndGlyphs">100</text><text x="147.2" y="1.5" font-size="8.8" font-weight="bold" textLength="16.2" lengthAdjust="spacingAndGlyphs">Mpc</text><text x="172.3" y="0" font-size="13.2" font-style="italic" text-anchor="middle">λ</text><text x="178.4" y="4.6" font-size="8.5" font-weight="bold" text-anchor="middle">*</text><text x="181" y="2.6" font-size="9.0" font-weight="bold" textLength="17.4" lengthAdjust="spacingAndGlyphs">Mpc</text></g>
<g transform="translate(380.7 175) rotate(-90)"><text x="2.1" y="8.6" font-size="13.2" font-style="italic" text-anchor="middle">γ</text><text x="12.45" y="9.2" font-size="13.7" text-anchor="middle">/</text><text x="25" y="0" font-size="13.2" font-style="italic" text-anchor="middle">g</text><text x="29.35" y="-6.6" font-size="8.3" text-anchor="middle">2</text><text x="26.9" y="3.4" font-size="8.8" font-style="italic" textLength="13.6" lengthAdjust="spacingAndGlyphs">aγγ</text><text x="50" y="0" font-size="13.2" font-style="italic" text-anchor="middle">P</text><text x="58.65" y="3" font-size="8.8" font-style="italic" text-anchor="middle">B</text><text x="63.7" y="4.6" font-size="7" text-anchor="middle">*</text><text x="70.6" y="0" font-size="13.2" font-style="italic" text-anchor="middle">k</text><text x="76.95" y="-5.7" font-size="8.3" text-anchor="middle">2</text><text x="74.05" y="5" font-size="8.5" text-anchor="middle">*</text><text x="87" y="0" font-size="13.2" font-style="italic" text-anchor="middle">d</text><line x1="21.4" y1="6" x2="90.2" y2="6" stroke="#1a1a1a" stroke-width="0.8"/><text x="44.7" y="17.3" font-size="13.2" textLength="9.9" lengthAdjust="spacingAndGlyphs">16</text><text x="58.5" y="17.3" font-size="13.2" font-style="italic" text-anchor="middle">π</text><text x="64.9" y="12.4" font-size="8.3" text-anchor="middle">2</text></g>
</g>
</svg>
</body></html>
